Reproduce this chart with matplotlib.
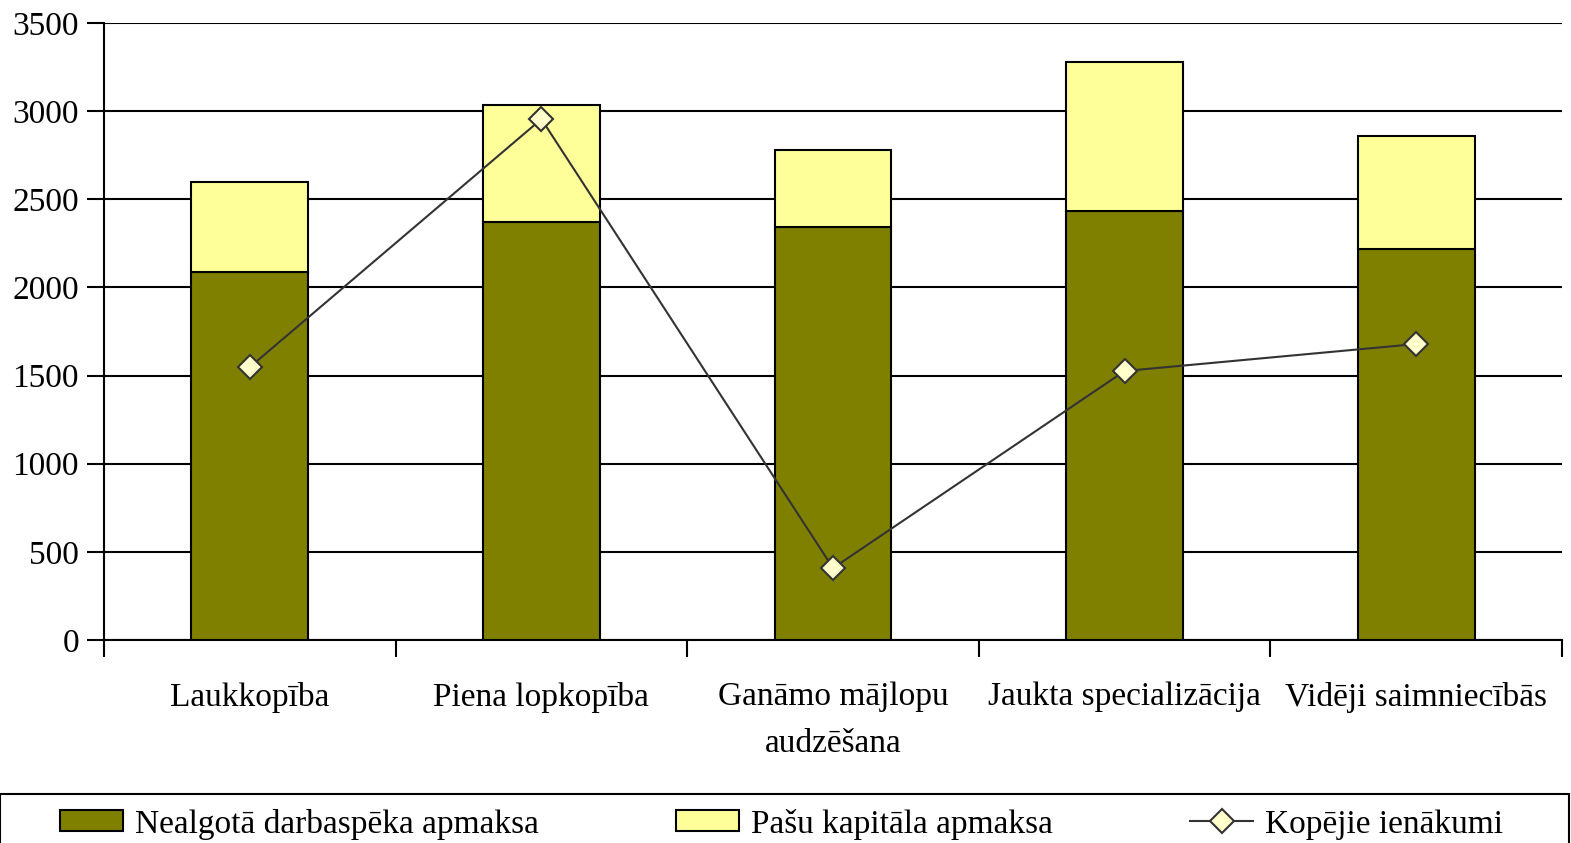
import matplotlib.pyplot as plt
from matplotlib.patches import Rectangle
import numpy as np

# ============================================================
# PLOT CONFIGURATION
# ============================================================
plt.rcParams['font.family'] = ['Liberation Serif', 'DejaVu Serif']
plt.rcParams['font.size'] = 24

# ============================================================
# DATA
# ============================================================
categories = ["Laukkopība", "Piena lopkopība", "Ganāmo mājlopu\naudzēšana",
              "Jaukta specializācija", "Vidēji saimniecībās"]
nealgota = [2087, 2371, 2343, 2433, 2218]
pasu_kapitals = [511, 664, 436, 845, 641]
kopejie = [1548, 2955, 408, 1526, 1679]

# ============================================================
# FIGURE
# ============================================================
fig = plt.figure(figsize=(15.71, 8.43), dpi=100)
ax = fig.add_axes([0.0662, 0.2408, 0.9281, 0.7319])

x = np.arange(len(categories))
b1 = ax.bar(x, nealgota, width=0.4, color='#808000', edgecolor='black', linewidth=1.5,
            label="Nealgotā darbaspēka apmaksa", zorder=3)
b2 = ax.bar(x, pasu_kapitals, width=0.4, bottom=nealgota, color='#FFFF99', edgecolor='black',
            linewidth=1.5, label="Pašu kapitāla apmaksa", zorder=3)
l1, = ax.plot(x, kopejie, color='#333333', linewidth=1.5, marker='D', markersize=12.5,
              markerfacecolor='#FFFFCC', markeredgecolor='#333333', markeredgewidth=1.5,
              label="Kopējie ienākumi", zorder=4)

ax.set_xlim(-0.5, len(categories) - 0.5)
ax.set_ylim(0, 3500)
ax.set_yticks(np.arange(0, 3501, 500))
ax.yaxis.grid(True, color='black', linewidth=1.5, zorder=1)
ax.set_axisbelow(True)

ax.set_xticks(np.arange(-0.5, len(categories) + 0.5, 1))
ax.set_xticklabels([])
ax.set_xticks(x, minor=True)
ax.set_xticklabels(categories, minor=True, linespacing=1.7)
ax.tick_params(axis='x', which='minor', length=0, pad=30)
ax.tick_params(axis='x', which='major', length=12, width=1.5, direction='out')
ax.tick_params(axis='y', length=12, width=1.5, direction='out', pad=6)

for side in ['top', 'right']:
    ax.spines[side].set_visible(False)
for side in ['left', 'bottom']:
    ax.spines[side].set_linewidth(1.5)

# ============================================================
# LEGEND
# ============================================================
frame = Rectangle((0.0, -0.05), 0.9985, 1 - 794 / 843 + 0.05, transform=fig.transFigure,
                  facecolor='white', edgecolor='black', linewidth=1.5)
fig.patches.append(frame)

leg = fig.legend([b1, b2, l1], [b1.get_label(), b2.get_label(), l1.get_label()],
                 loc='center', ncol=3, mode='expand',
                 bbox_to_anchor=(60 / 1571, 1 - 824 / 843, (1503 - 60) / 1571, 0),
                 frameon=False, handlelength=1.9, handleheight=0.6,
                 handletextpad=0.35, borderaxespad=0, borderpad=0)

fig.savefig("out.png", dpi=100)
